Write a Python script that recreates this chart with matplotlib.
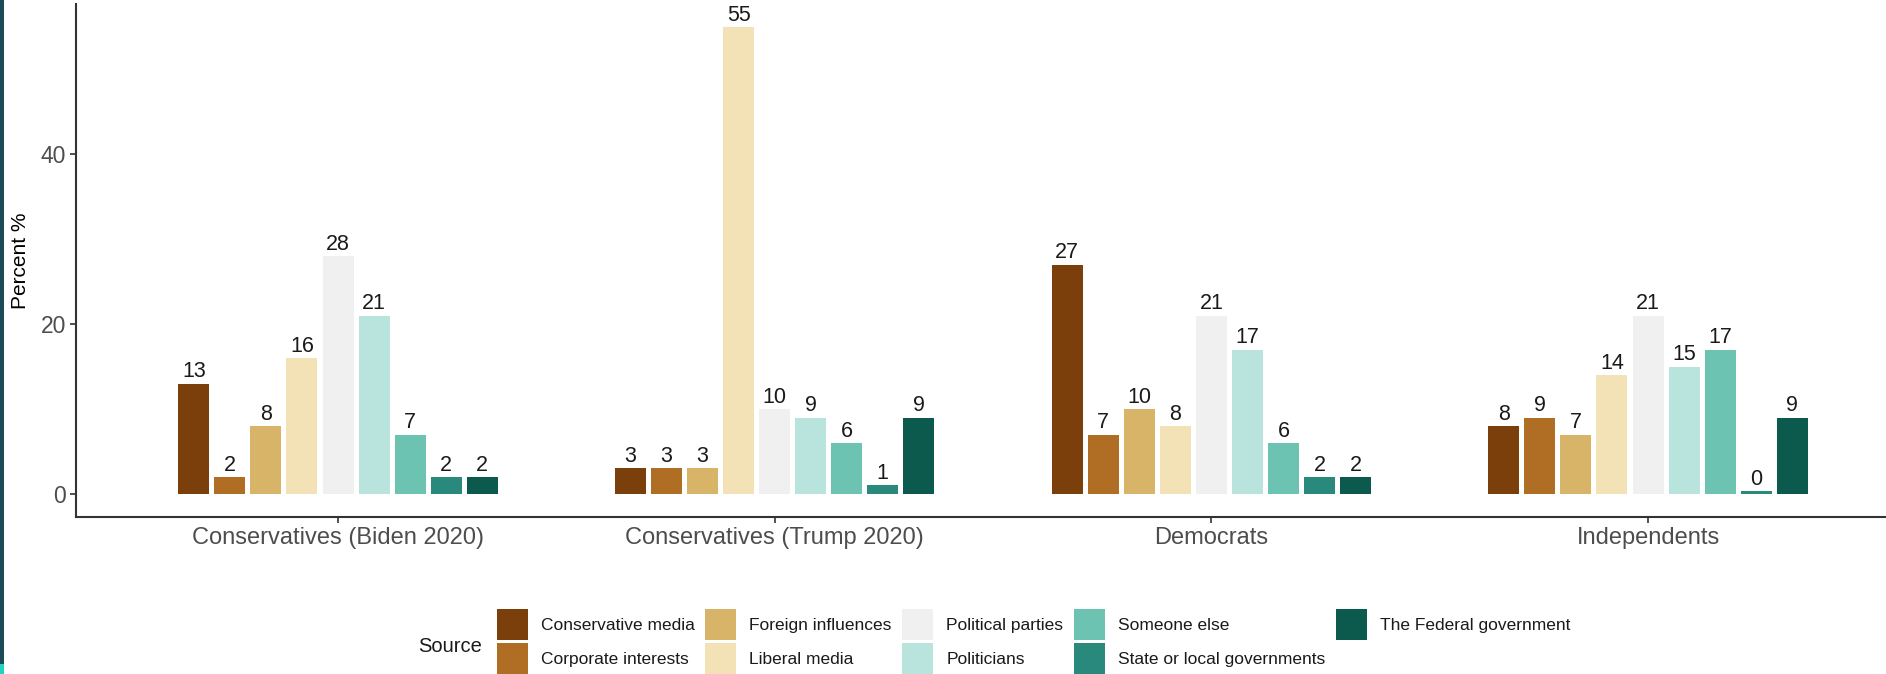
import matplotlib
matplotlib.use("Agg")
import matplotlib.pyplot as plt
from matplotlib.patches import Patch, Rectangle
import numpy as np

# ---- data ----
groups = ["Conservatives (Biden 2020)", "Conservatives (Trump 2020)", "Democrats", "Independents"]
sources = ["Conservative media", "Corporate interests", "Foreign influences", "Liberal media",
           "Political parties", "Politicians", "Someone else", "State or local governments",
           "The Federal government"]
biden = [13, 2, 8, 16, 28, 21, 7, 2, 2]
trump = [3, 3, 3, 55, 10, 9, 6, 1, 9]
democrats = [27, 7, 10, 8, 21, 17, 6, 2, 2]
independents = [8, 9, 7, 14, 21, 15, 17, 0.3, 9]
colors = ["#7B3F0C", "#B06D24", "#D8B468", "#F3E2B5", "#F0F0F0",
          "#B9E3DD", "#6CC3B2", "#2A897D", "#0C5A4E"]
yticks = [0, 20, 40]

plt.rcParams["font.family"] = ["Liberation Sans", "DejaVu Sans"]

W, H = 1886, 674
fig = plt.figure(figsize=(W / 100, H / 100), dpi=100)
fig.patch.set_facecolor("white")
ax = fig.add_axes([76 / W, 1 - 517.3 / H, 1 - 76 / W, (517.3 - 3.7) / H])
ax.set_facecolor("white")

data = np.array([biden, trump, democrats, independents])  # groups x sources
pitch = 0.0825
bw = 0.071
xg = np.arange(1, len(groups) + 1)
for j, src in enumerate(sources):
    xs = xg + (j - (len(sources) - 1) / 2) * pitch
    vals = data[:, j]
    ax.bar(xs, vals, width=bw, color=colors[j], label=src, zorder=2)
    for x, v in zip(xs, vals):
        ax.annotate(f"{v:.0f}", (x, v), xytext=(0, 4.6), textcoords="offset points",
                    ha="center", va="baseline", fontsize=15.5, color="#1a1a1a")

ax.set_xlim(0.4, 4.545)
ax.set_ylim(-2.75, 57.75)
ax.set_xticks(xg)
ax.set_xticklabels(groups)
ax.set_yticks(yticks)
ax.set_yticklabels([str(t) for t in yticks])

for s in ["top", "right"]:
    ax.spines[s].set_visible(False)
for s in ["left", "bottom"]:
    ax.spines[s].set_color("#333333")
    ax.spines[s].set_linewidth(1.5)
ax.tick_params(axis="x", length=4, width=1.2, color="#333333", pad=3.2,
               labelsize=17, labelcolor="#4d4d4d")
ax.tick_params(axis="y", length=4, width=1.2, color="#333333", pad=3.2,
               labelsize=16.5, labelcolor="#4d4d4d")

fig.text(20.5 / W, 1 - 261 / H, "Percent %", rotation=90, ha="center", va="center",
         fontsize=15, color="black")

# legend
handles = [Patch(facecolor=c, edgecolor="none") for c in colors]
fs = 12.5
fpx = fs * 100 / 72
key = 31.0
# matplotlib reserves a descent inside the handle box; solve so the patch is key px tall
hh = (key / fpx - 0.245) / 0.65
leg = fig.legend(handles, sources, loc="upper left",
                 bbox_to_anchor=(497 / W, 1 - 609 / H), bbox_transform=fig.transFigure,
                 ncol=5, frameon=False, fontsize=fs, borderpad=0, borderaxespad=0,
                 handlelength=key / fpx, handleheight=hh, handletextpad=13 / fpx,
                 columnspacing=10.5 / fpx, labelspacing=3 / fpx)
for t in leg.get_texts():
    t.set_color("#1a1a1a")
fig.text(418 / W, 1 - 652 / H, "Source", ha="left", va="baseline", fontsize=14.5, color="#1a1a1a")

# left edge stripe
fig.patches.append(Rectangle((0, 0), 3.5 / W, 1, transform=fig.transFigure,
                             facecolor="#1C4A56", edgecolor="none", zorder=10))
fig.patches.append(Rectangle((0, 0), 3.5 / W, 10 / H, transform=fig.transFigure,
                             facecolor="#21D4C0", edgecolor="none", zorder=11))

fig.savefig("out.png", dpi=100)
